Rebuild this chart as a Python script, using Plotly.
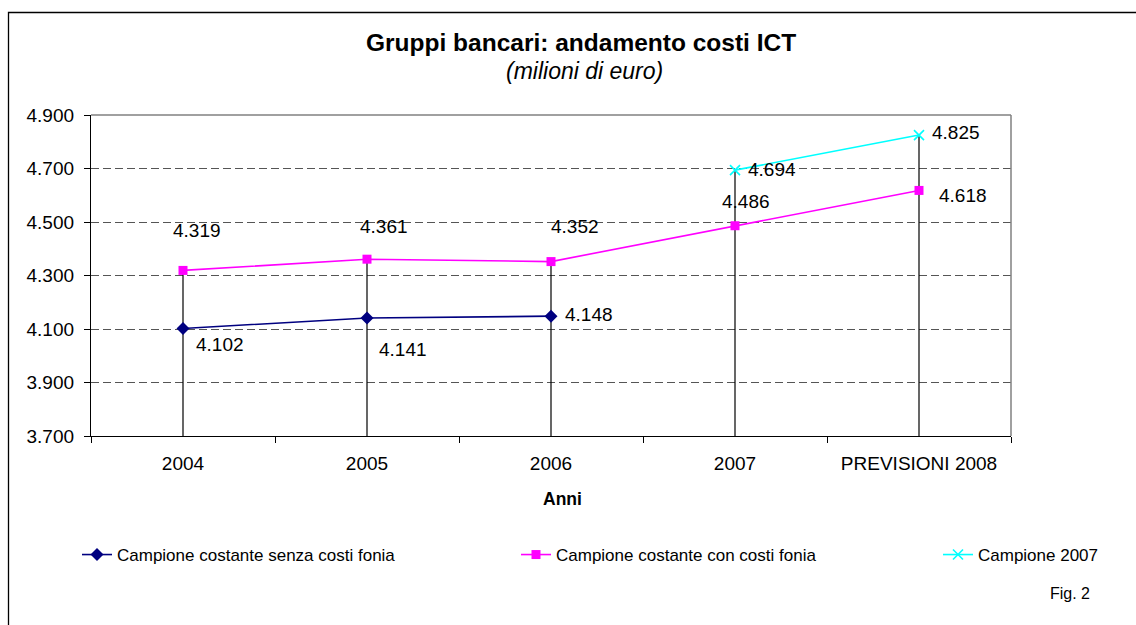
import plotly.graph_objects as go

# --- data -------------------------------------------------------------
anni = ["2004", "2005", "2006", "2007", "PREVISIONI 2008"]
senza_fonia = [4102, 4141, 4148, None, None]      # Campione costante senza costi fonia
con_fonia = [4319, 4361, 4352, 4486, 4618]        # Campione costante con costi fonia
campione_2007 = [None, None, None, 4694, 4825]    # Campione 2007
y_ticks = [3700, 3900, 4100, 4300, 4500, 4700, 4900]

FONT = "Liberation Sans, Arial, sans-serif"
W, H = 1136, 625
L, R, T, B = 91, 125, 115, 189
PW, PH = W - L - R, H - T - B


def px(x):
    return (x - L) / PW


def py(y):
    return (H - B - y) / PH


def fmt(v):
    return f"{v:,}".replace(",", ".")


fig = go.Figure()

# drop lines from the highest point of each year down to the axis
drop_x, drop_y = [], []
for i, a in enumerate(anni):
    vals = [s[i] for s in (senza_fonia, con_fonia, campione_2007) if s[i] is not None]
    drop_x += [a, a, None]
    drop_y += [max(vals), y_ticks[0], None]
fig.add_trace(go.Scatter(x=drop_x, y=drop_y, mode="lines",
                         line=dict(color="#000000", width=1.2),
                         hoverinfo="skip", showlegend=False))

fig.add_trace(go.Scatter(
    x=anni, y=senza_fonia, mode="lines+markers",
    name="Campione costante senza costi fonia", legend="legend",
    line=dict(color="#000080", width=1.6),
    marker=dict(symbol="diamond", size=10, color="#000080")))
fig.add_trace(go.Scatter(
    x=anni, y=con_fonia, mode="lines+markers",
    name="Campione costante con costi fonia", legend="legend2",
    line=dict(color="#FF00FF", width=1.6),
    marker=dict(symbol="square", size=9, color="#FF00FF")))
fig.add_trace(go.Scatter(
    x=anni, y=campione_2007, mode="lines+markers",
    name="Campione 2007", legend="legend3",
    line=dict(color="#00FFFF", width=1.6),
    marker=dict(symbol="x-thin", size=10, color="#00FFFF",
                line=dict(color="#00FFFF", width=1.6))))

# value labels (pixel offsets from each point)
offsets = {
    "senza": [(37, -16), (36, -31), (38, 2), None, None],
    "con": [(14, 40), (17, 33), (24, 35), (11, 24), (44, -5)],
    "c07": [None, None, None, (37, 1), (37, 3)],
}
annotations = []
for key, serie in (("senza", senza_fonia), ("con", con_fonia), ("c07", campione_2007)):
    for i, v in enumerate(serie):
        if v is None:
            continue
        dx, dy = offsets[key][i]
        annotations.append(dict(x=i, y=v, xref="x", yref="y", text=fmt(v),
                                showarrow=False, xshift=dx, yshift=dy,
                                xanchor="center", yanchor="middle",
                                font=dict(family=FONT, size=19, color="#000")))

annotations += [
    dict(x=px(581), y=py(42), xref="paper", yref="paper", showarrow=False,
         xanchor="center", yanchor="middle",
         text="<b>Gruppi bancari: andamento costi ICT</b>",
         font=dict(family=FONT, size=24.5, color="#000")),
    dict(x=px(584), y=py(71), xref="paper", yref="paper", showarrow=False,
         xanchor="center", yanchor="middle",
         text="<i>(milioni di euro)</i>",
         font=dict(family=FONT, size=23, color="#000")),
    dict(x=px(562), y=py(499), xref="paper", yref="paper", showarrow=False,
         xanchor="center", yanchor="middle",
         text="<b>Anni</b>", font=dict(family=FONT, size=17.5, color="#000")),
    dict(x=px(1092), y=py(593), xref="paper", yref="paper", showarrow=False,
         xanchor="right", yanchor="middle", text="Fig. 2",
         font=dict(family=FONT, size=16, color="#000")),
]

shapes = [
    # outer frame (left and top edges visible)
    dict(type="rect", xref="paper", yref="paper", x0=px(8.5), y0=py(640),
         x1=px(1160), y1=py(12.5), line=dict(color="#000", width=1.3),
         fillcolor="rgba(0,0,0,0)", layer="below"),
    # plot area top and right edges
    dict(type="line", xref="paper", yref="paper", x0=0, x1=1, y0=1, y1=1,
         line=dict(color="#808080", width=1.5)),
    dict(type="line", xref="paper", yref="paper", x0=1, x1=1, y0=0, y1=1,
         line=dict(color="#808080", width=1.5)),
]


def legend_at(x_text):
    return dict(orientation="h", x=px(x_text - 40), y=py(555), yanchor="middle",
                xanchor="left", font=dict(family=FONT, size=17, color="#000"),
                bgcolor="rgba(0,0,0,0)", itemwidth=30)


fig.update_layout(
    width=W, height=H,
    margin=dict(l=L, r=R, t=T, b=B, autoexpand=False),
    paper_bgcolor="white", plot_bgcolor="white",
    font=dict(family=FONT, size=19, color="#000"),
    annotations=annotations, shapes=shapes,
    legend=legend_at(117), legend2=legend_at(556), legend3=legend_at(978),
    showlegend=True,
)
fig.update_xaxes(type="category", categoryorder="array", categoryarray=anni,
                 range=[-0.5, len(anni) - 0.5], showgrid=False,
                 showline=True, linecolor="#000", linewidth=1.3,
                 ticks="outside", tickson="boundaries", ticklen=6,
                 tickcolor="#000", ticklabelstandoff=10,
                 tickfont=dict(family=FONT, size=19), zeroline=False)
fig.update_yaxes(range=[y_ticks[0], y_ticks[-1]], tickvals=y_ticks,
                 ticktext=[fmt(v) for v in y_ticks],
                 showgrid=True, gridcolor="#555555", gridwidth=1,
                 griddash="8px,4px",
                 showline=True, linecolor="#000", linewidth=1.3,
                 ticks="outside", ticklen=6, tickcolor="#000",
                 ticklabelstandoff=6,
                 tickfont=dict(family=FONT, size=19), zeroline=False)

fig.write_html("out.html")
